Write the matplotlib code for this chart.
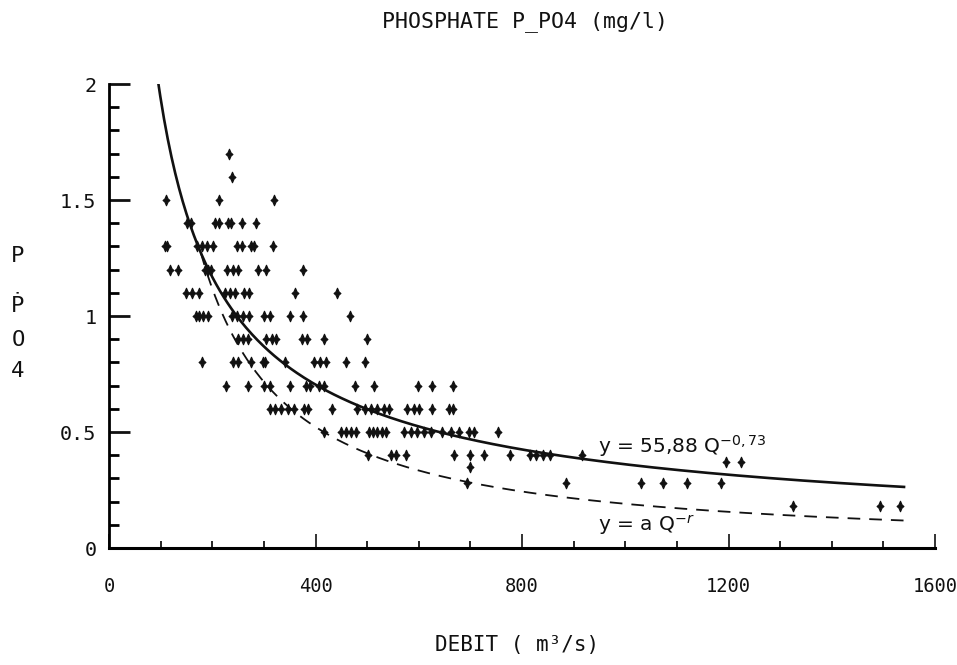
import numpy as np
import matplotlib
matplotlib.use("Agg")
from matplotlib import pyplot as plt
from matplotlib.path import Path
from matplotlib.ticker import MultipleLocator, FixedLocator, FixedFormatter

plt.rcParams["font.family"] = ["DejaVu Sans Mono", "DejaVu Sans"]

# discharge (m3/s) of the samples, grouped by measured P-PO4 level (mg/l)
q_170 = [232]
q_160 = [238]
q_150 = [110, 214, 319]
q_140 = [151, 158, 205, 213, 230, 236, 257, 284]
q_130 = [108, 112, 170, 180, 189, 201, 247, 257, 276, 280, 317]
q_120 = [118, 133, 185, 192, 198, 228, 240, 249, 288, 305, 375]
q_110 = [149, 160, 174, 224, 234, 245, 261, 272, 361, 442]
q_100 = [168, 174, 182, 191, 238, 247, 259, 272, 301, 311, 350, 375, 466]
q_090 = [249, 259, 269, 305, 315, 323, 373, 383, 417, 500]
q_080 = [180, 240, 249, 276, 299, 303, 340, 398, 408, 421, 460, 495]
q_070 = [226, 269, 301, 311, 350, 381, 390, 406, 416, 477, 514, 599, 626, 667]
q_060 = [311, 321, 334, 346, 358, 377, 386, 431, 481, 495, 508, 520, 533, 543,
         578, 591, 601, 626, 659, 667]
q_050 = [417, 450, 460, 469, 479, 504, 512, 520, 529, 537, 572, 585, 597, 611,
         624, 645, 663, 678, 697, 707, 753]
q_040 = [502, 547, 556, 576, 668, 699, 726, 777, 815, 828, 841, 854, 916]
q_037 = [1196, 1225]
q_035 = [699]
q_028 = [694, 886, 1030, 1074, 1119, 1186]
q_018 = [1325, 1493, 1532]

levels = [1.7, 1.6, 1.5, 1.4, 1.3, 1.2, 1.1, 1.0, 0.9, 0.8, 0.7, 0.6, 0.5,
          0.4, 0.37, 0.35, 0.28, 0.18]
groups = [q_170, q_160, q_150, q_140, q_130, q_120, q_110, q_100, q_090,
          q_080, q_070, q_060, q_050, q_040, q_037, q_035, q_028, q_018]

# fitted power laws y = a * Q^-b
fit_a, fit_b = 55.88, 0.73
dil_a, dil_b = 380.0, 1.10

debit = np.concatenate([np.array(g, float) for g in groups])
p_po4 = np.concatenate([np.full(len(g), lv) for g, lv in zip(groups, levels)])

# plotter-style marker: small diamond star, taller than wide
star = Path([(0, 1), (0.3, 0.3), (0.65, 0), (0.3, -0.3), (0, -1),
             (-0.3, -0.3), (-0.65, 0), (-0.3, 0.3), (0, 1)],
            [Path.MOVETO] + [Path.LINETO] * 7 + [Path.CLOSEPOLY])

fig = plt.figure(figsize=(9.57, 6.65), dpi=100)
ax = fig.add_axes([109 / 957, 117 / 665, 826 / 957, 464 / 665])

ax.scatter(debit, p_po4, marker=star, s=58, color="#111111", linewidths=0.8,
           zorder=3)

q1 = np.linspace((fit_a / 2.0) ** (1 / fit_b), 1540, 400)
ax.plot(q1, fit_a * q1 ** -fit_b, color="#111111", lw=1.9, zorder=2)

q2_start = (dil_a / fit_a) ** (1 / (dil_b - fit_b))
q2 = np.linspace(q2_start, 1550, 400)
ax.plot(q2, dil_a * q2 ** -dil_b, color="#111111", lw=1.3,
        linestyle=(0, (7, 5)), zorder=2)

ax.text(947, 0.41, r"y = 55,88 Q$^{-0,73}$", family="DejaVu Sans",
        fontsize=14.5, color="#111111", va="baseline")
ax.text(947, 0.07, r"y = a Q$^{-r}$", family="DejaVu Sans",
        fontsize=14.5, color="#111111", va="baseline")

ax.set_xlim(0, 1600)
ax.set_ylim(0, 2)
for side in ("top", "right"):
    ax.spines[side].set_visible(False)
ax.spines["left"].set_linewidth(2)
ax.spines["bottom"].set_linewidth(2.2)

ax.xaxis.set_major_locator(FixedLocator([0, 400, 800, 1200, 1600]))
ax.xaxis.set_minor_locator(MultipleLocator(100))
ax.yaxis.set_major_locator(FixedLocator([0, 0.5, 1, 1.5, 2]))
ax.yaxis.set_major_formatter(FixedFormatter(["0", "0.5", "1", "1.5", "2"]))
ax.yaxis.set_minor_locator(MultipleLocator(0.1))

ax.tick_params(axis="x", which="major", direction="in", length=10, width=1.2,
               pad=21, labelsize=13.5, colors="#111111")
ax.tick_params(axis="x", which="minor", direction="in", length=5, width=1.2)
ax.tick_params(axis="y", which="major", direction="in", length=15, width=2,
               pad=9, labelsize=14.5, colors="#111111")
ax.tick_params(axis="y", which="minor", direction="in", length=7.5, width=2)

fig.text(0.549, 0.967, "PHOSPHATE P_PO4 (mg/l)", ha="center", va="center",
         fontsize=15.5, color="#111111")
fig.text(0.540, 0.030, "DEBIT ( m³/s)", ha="center", va="center",
         fontsize=15, color="#111111")

# vertical axis name, one character per line
for ch, ypx in zip(["P", "Ṗ", "O", "4"], [256, 306, 340, 371]):
    fig.text(18 / 957, 1 - ypx / 665, ch, ha="center", va="center",
             fontsize=16, color="#111111")

fig.savefig("out.png", dpi=100, facecolor="white")
